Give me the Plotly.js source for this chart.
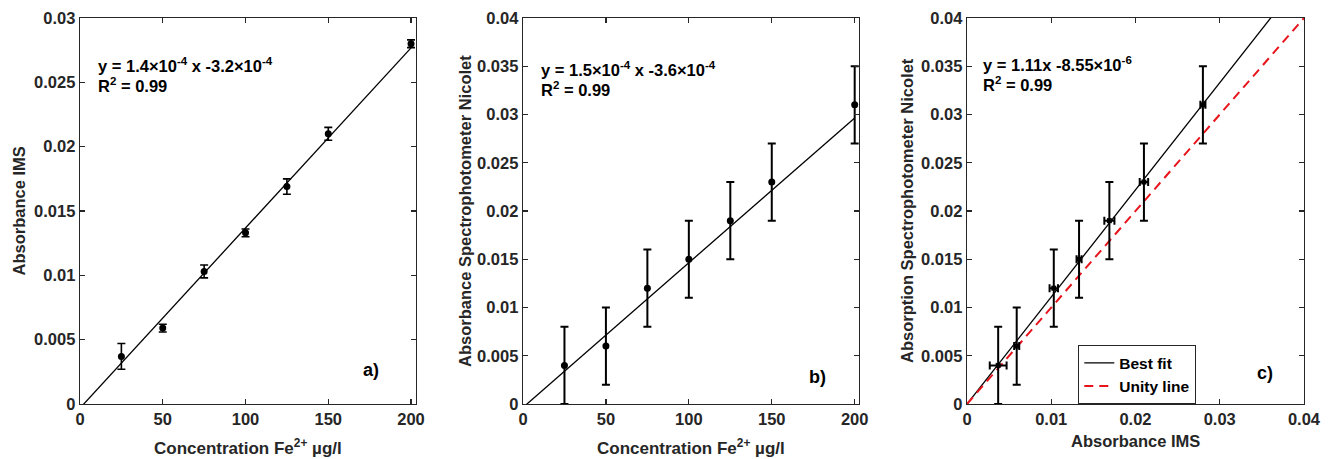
<!DOCTYPE html>
<html>
<head>
<meta charset="utf-8">
<script src="https://cdn.plot.ly/plotly-3.0.1.min.js"></script>
<style>html,body{margin:0;padding:0;background:#fff;}#chart{width:1331px;height:459px;}</style>
</head>
<body>
<div id="chart"></div>
<script>
// ---- data ----
const concentration = [25, 50, 75, 100, 125, 150, 200];          // µg/l
const absIMS        = [0.0037, 0.0059, 0.0103, 0.0133, 0.0169, 0.0210, 0.0280];
const errIMS        = [0.0010, 0.0003, 0.0005, 0.0003, 0.0006, 0.0005, 0.0003];
const absNicolet    = [0.004, 0.006, 0.012, 0.015, 0.019, 0.023, 0.031];
const errNicolet    = [0.004, 0.004, 0.004, 0.004, 0.004, 0.004, 0.004];

const fitA = {slope: 1.4e-4, intercept: -3.2e-4, xmin: 0, xmax: 200};
const fitB = {slope: 1.5e-4, intercept: -3.6e-4, xmin: 0, xmax: 200};
const fitC = {slope: 1.11,   intercept: -8.55e-6, xmin: 0, xmax: 0.04};
const unity = {xmin: 0, xmax: 0.04};

const ticksConc = [0, 50, 100, 150, 200];
const ticksA = [0, 0.005, 0.01, 0.015, 0.02, 0.025, 0.03];
const ticksB = [0, 0.005, 0.01, 0.015, 0.02, 0.025, 0.03, 0.035, 0.04];
const ticksCx = [0, 0.01, 0.02, 0.03, 0.04];

function fitLine(f) {
  return {x: [f.xmin, f.xmax], y: [f.slope * f.xmin + f.intercept, f.slope * f.xmax + f.intercept]};
}

// ---- styling ----
const W = 1331, H = 459;
const FONT = 'Liberation Sans, Arial, Helvetica, sans-serif';
const AX = '#262626';
const px = (x) => x / W;
const py = (y) => 1 - y / H;
const yDom = [py(404), py(18)];

const lA = fitLine(fitA), lB = fitLine(fitB), lC = fitLine(fitC);

const traces = [
  {x: lA.x, y: lA.y, xaxis: 'x', yaxis: 'y', mode: 'lines', line: {color: '#000', width: 1.3}, showlegend: false, hoverinfo: 'skip'},
  {x: concentration, y: absIMS, xaxis: 'x', yaxis: 'y', mode: 'markers', type: 'scatter',
   marker: {color: '#000', size: 7}, showlegend: false,
   error_y: {type: 'data', array: errIMS, visible: true, color: '#000', thickness: 1.6, width: 4}},

  {x: lB.x, y: lB.y, xaxis: 'x2', yaxis: 'y2', mode: 'lines', line: {color: '#000', width: 1.3}, showlegend: false, hoverinfo: 'skip'},
  {x: concentration, y: absNicolet, xaxis: 'x2', yaxis: 'y2', mode: 'markers', type: 'scatter',
   marker: {color: '#000', size: 7}, showlegend: false,
   error_y: {type: 'data', array: errNicolet, visible: true, color: '#000', thickness: 2, width: 4}},

  {x: lC.x, y: lC.y, xaxis: 'x3', yaxis: 'y3', mode: 'lines', name: 'Best fit', line: {color: '#000', width: 1.3}, showlegend: true},
  {x: [unity.xmin, unity.xmax], y: [unity.xmin, unity.xmax], xaxis: 'x3', yaxis: 'y3', mode: 'lines', name: 'Unity line',
   line: {color: '#e8141c', width: 2, dash: '9px,6px'}, showlegend: true},
  {x: absIMS, y: absNicolet, xaxis: 'x3', yaxis: 'y3', mode: 'markers', type: 'scatter',
   marker: {color: '#000', size: 5, symbol: 'square'}, showlegend: false,
   error_y: {type: 'data', array: errNicolet, visible: true, color: '#000', thickness: 2, width: 4},
   error_x: {type: 'data', array: errIMS, visible: true, color: '#000', thickness: 2, width: 4}}
];

const tickfont = {family: FONT, size: 16.5, weight: 'bold', color: AX};

function axis(extra) {
  return Object.assign({
    showgrid: false, zeroline: false, showline: true, linecolor: AX, linewidth: 1.3,
    mirror: 'ticks', ticks: 'inside', ticklen: 5, tickwidth: 1.3, tickcolor: AX,
    tickfont: tickfont, tickmode: 'array', automargin: false, fixedrange: true
  }, extra);
}

function label(text, x, y, opts) {
  return Object.assign({xref: 'paper', yref: 'paper', x: px(x), y: py(y), xanchor: 'center', yanchor: 'middle',
    showarrow: false, text: text, font: {family: FONT, size: 16.5, weight: 'bold', color: AX}}, opts || {});
}
const eqFont = {family: FONT, size: 16.5, weight: 'bold', color: '#000'};
const tagFont = {family: FONT, size: 18, weight: 'bold', color: '#000'};

const layout = {
  width: W, height: H,
  margin: {l: 0, r: 0, t: 0, b: 0},
  paper_bgcolor: '#fff', plot_bgcolor: '#fff',
  showlegend: true,
  legend: {x: px(1078), y: py(404), xanchor: 'left', yanchor: 'bottom',
           bordercolor: AX, borderwidth: 1.3, bgcolor: '#fff',
           font: {family: FONT, size: 15.5, weight: 'bold', color: '#000'},
           tracegroupgap: 0, itemwidth: 30},
  xaxis:  axis({domain: [px(80), px(416)], range: [0, 203], tickvals: ticksConc, anchor: 'y'}),
  yaxis:  axis({domain: yDom, range: [0, 0.03], tickvals: ticksA, anchor: 'x'}),
  xaxis2: axis({domain: [px(523), px(859)], range: [0, 202.6], tickvals: ticksConc, anchor: 'y2'}),
  yaxis2: axis({domain: yDom, range: [0, 0.04], tickvals: ticksB, anchor: 'x2'}),
  xaxis3: axis({domain: [px(967), px(1304)], range: [0, 0.04], tickvals: ticksCx, anchor: 'y3'}),
  yaxis3: axis({domain: yDom, range: [0, 0.04], tickvals: ticksB, anchor: 'x3'}),
  annotations: [
    // axis titles
    label('Absorbance IMS', 18.5, 211, {textangle: -90}),
    label('Concentration Fe<sup>2+</sup> µg/l', 248, 447, {font: {family: FONT, size: 17, weight: 'bold', color: AX}}),
    label('Absorbance Spectrophotometer Nicolet', 465, 211, {textangle: -90}),
    label('Concentration Fe<sup>2+</sup> µg/l', 691, 447, {font: {family: FONT, size: 17, weight: 'bold', color: AX}}),
    label('Absorption Spectrophotometer Nicolet', 907, 211, {textangle: -90}),
    label('Absorbance IMS', 1135.5, 441),
    // equations
    label('y = 1.4×10<sup>-4</sup> x -3.2×10<sup>-4</sup>', 96, 77, {xanchor: 'left', yanchor: 'bottom', font: eqFont}),
    label('R<sup>2</sup> = 0.99', 96, 97, {xanchor: 'left', yanchor: 'bottom', font: eqFont}),
    label('y = 1.5×10<sup>-4</sup> x -3.6×10<sup>-4</sup>', 539, 81, {xanchor: 'left', yanchor: 'bottom', font: eqFont}),
    label('R<sup>2</sup> = 0.99', 539, 101, {xanchor: 'left', yanchor: 'bottom', font: eqFont}),
    label('y = 1.11x -8.55×10<sup>-6</sup>', 981, 76, {xanchor: 'left', yanchor: 'bottom', font: eqFont}),
    label('R<sup>2</sup> = 0.99', 981, 96, {xanchor: 'left', yanchor: 'bottom', font: eqFont}),
    // panel tags
    label('a)', 371, 370, {font: tagFont}),
    label('b)', 817, 377, {font: tagFont}),
    label('c)', 1265, 373, {font: tagFont})
  ]
};

Plotly.newPlot('chart', traces, layout, {displayModeBar: false, staticPlot: true});
</script>
</body>
</html>
